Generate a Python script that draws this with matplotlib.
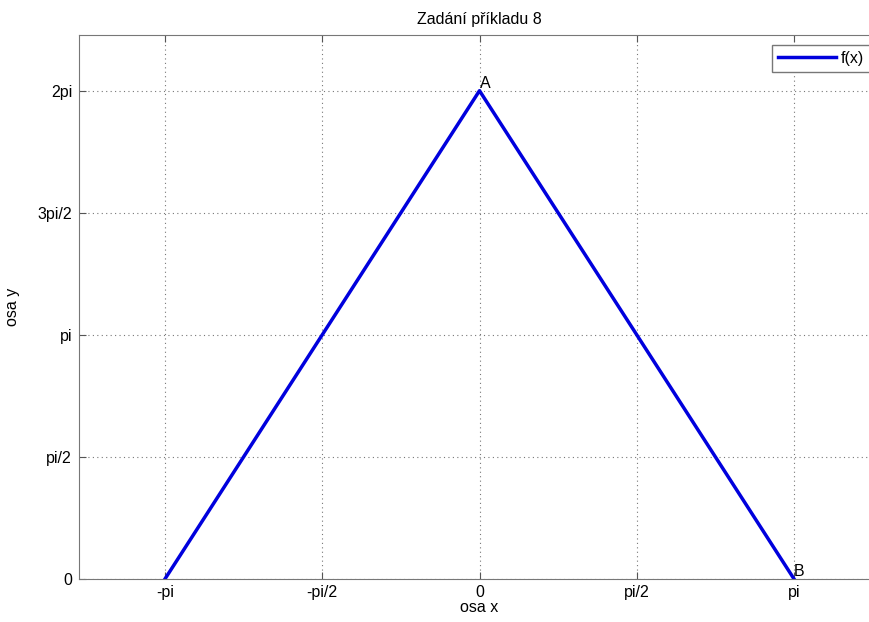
import numpy as np
import matplotlib
matplotlib.use("Agg")
import matplotlib.pyplot as plt

plt.rcParams['font.family'] = ['Liberation Sans', 'DejaVu Sans']

x_vals = [-np.pi, 0.0, np.pi]
y_vals = [0.0, 2 * np.pi, 0.0]
xticks = [-np.pi, -np.pi / 2, 0, np.pi / 2, np.pi]
xtick_labels = ['-pi', '-pi/2', '0', 'pi/2', 'pi']
yticks = [0, np.pi / 2, np.pi, 3 * np.pi / 2, 2 * np.pi]
ytick_labels = ['0', 'pi/2', 'pi', '3pi/2', '2pi']

fig = plt.figure(figsize=(8.69, 6.22), dpi=100)
ax = fig.add_axes([79 / 869, 43 / 622, 801 / 869, 544 / 622])
ax.plot(x_vals, y_vals, color='#0000dd', linewidth=2.5, label='f(x)')
ax.set_xlim(-4, 4)
ax.set_ylim(0, 7)
ax.set_xticks(xticks)
ax.set_xticklabels(xtick_labels)
ax.set_yticks(yticks)
ax.set_yticklabels(ytick_labels)
ax.tick_params(direction='in', top=True, right=True, length=5, labelsize=11.5,
               color='#555555')
ax.tick_params(axis='x', pad=4)
ax.tick_params(axis='y', pad=5)
for s in ax.spines.values():
    s.set_color('#777777')
ax.grid(True, linestyle=(0, (1, 3)), color='#777777', linewidth=0.8)
ax.text(x_vals[1], y_vals[1], 'A', fontsize=11.5, ha='left', va='bottom')
ax.text(x_vals[2], y_vals[2], 'B', fontsize=11.5, ha='left', va='bottom')
ax.set_title('Zadání příkladu 8', fontsize=11.5, pad=8)
ax.set_xlabel('osa x', fontsize=11.5, labelpad=0)
ax.set_ylabel('osa y', fontsize=11.5)
ax.yaxis.set_label_coords(-0.074, 0.5)
leg = ax.legend(loc='upper right', fontsize=11.5, fancybox=False, framealpha=1,
                edgecolor='#777777', borderaxespad=0.6, handlelength=3.6,
                handletextpad=0.3)
fig.savefig('out.png', dpi=100)
